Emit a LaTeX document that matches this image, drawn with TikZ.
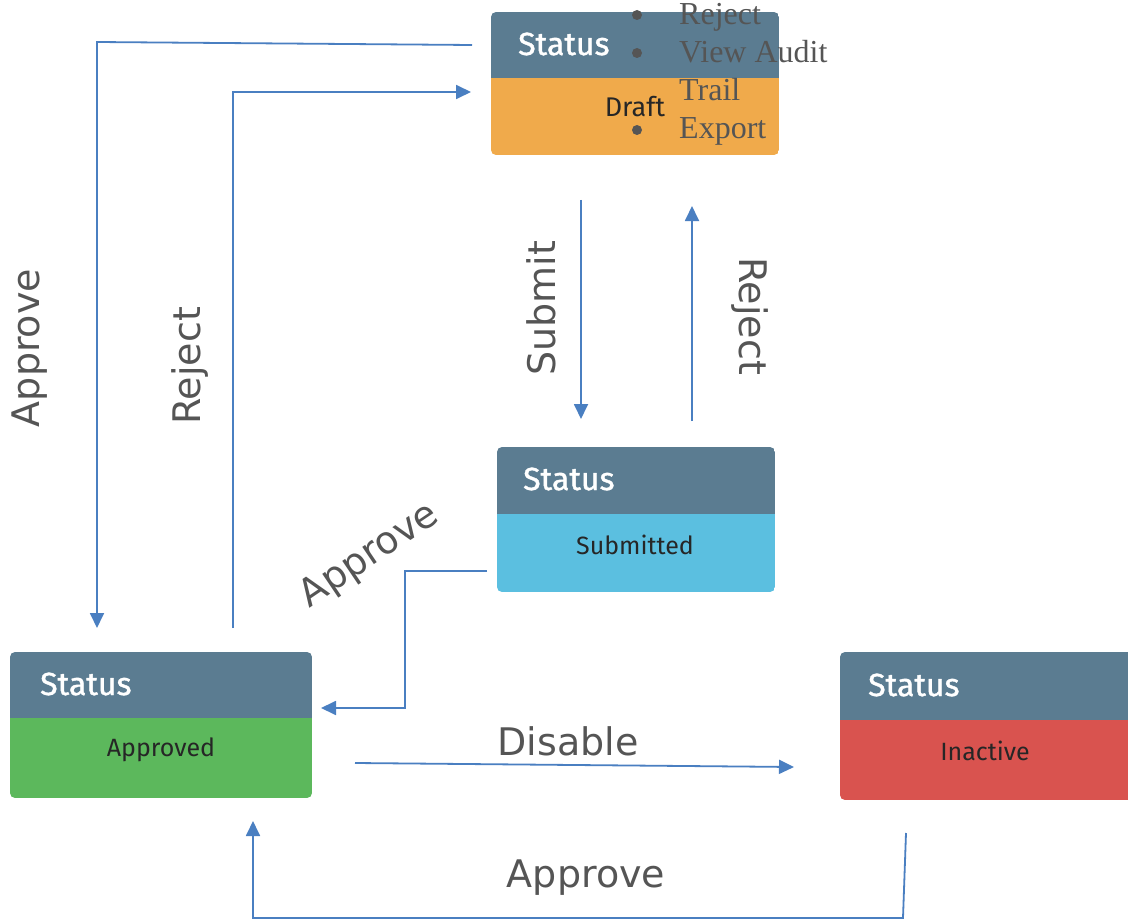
\documentclass[tikz,border=0pt]{standalone}
\usepackage{fontspec}
\setmainfont{Liberation Serif}
\newfontfamily\boxfont{Fira Sans}
\newfontfamily\statfont{Fira Sans}[FakeBold=1.2]
\newfontfamily\labfont{DejaVu Sans}
\usetikzlibrary{arrows.meta}
\definecolor{headc}{HTML}{5B7C91}
\definecolor{draftc}{HTML}{F0AA4B}
\definecolor{subc}{HTML}{5BBFE0}
\definecolor{apprc}{HTML}{5CB85C}
\definecolor{inacc}{HTML}{D9534F}
\definecolor{linkc}{HTML}{4A7FC1}
\definecolor{labc}{HTML}{555555}
\newcommand\stbox[7]{%
  \begin{scope}
    \clip[rounded corners=5pt] (#2,#3) rectangle (#4,#5);
    \fill[headc] (#2,#3) rectangle (#4,#6);
    \fill[#7] (#2,#6) rectangle (#4,#5);
  \end{scope}
  \coordinate (#1-nw) at (#2,#3);
  \coordinate (#1-se) at (#4,#5);
}
\begin{document}
\begin{tikzpicture}[x=1pt,y=-1pt,
  conn/.style={draw=linkc, line width=1.8pt},
  tipped/.style={conn, -{Triangle[length=15pt,width=14pt]}},
  lab/.style={text=labc, font=\labfont\fontsize{38}{40}\selectfont, inner sep=0},
  stat/.style={text=white, font=\statfont\fontsize{32}{34}\selectfont, anchor=west, inner sep=0},
  bodytxt/.style={text=black!85, font=\boxfont\fontsize{25}{27}\selectfont, inner sep=0},
  bul/.style={text=labc, font=\fontsize{32}{38}\selectfont, anchor=base west, inner sep=0},
  dot/.style={circle, fill=labc, inner sep=0, minimum size=10pt}]
\clip (0,0) rectangle (1128,923);
\fill[white] (0,0) rectangle (1128,923);

% boxes
\stbox{draft}{491}{12}{779}{155}{78}{draftc}
\stbox{sub}{497}{447}{775}{592}{514}{subc}
\stbox{appr}{10}{652}{312}{798}{718}{apprc}
\stbox{inac}{840}{652}{1145}{800}{720}{inacc}

\node[stat] (draftst) at (518,44) {Status};
\node[stat] (subst) at (523,479) {Status};
\node[stat] (apprst) at (40,684) {Status};
\node[stat] (inacst) at (868,685) {Status};

\node[bodytxt, font=\boxfont\fontsize{27}{29}\selectfont] (drafttx) at (635,107) {Draft};
\node[bodytxt] (subtx) at (635,545) {Submitted};
\node[bodytxt] (apprtx) at (161,750) {Approved};
\node[bodytxt] (inactx) at (985,751) {Inactive};

% bullet list
\node[dot] (b1) at (637,15) {};
\node[dot] (b2) at (637,53) {};
\node[dot] (b3) at (637,130) {};
\node[bul] (l1) at (679,25) {Reject};
\node[bul] (l2) at (679,63) {View Audit};
\node[bul] (l3) at (679,101) {Trail};
\node[bul] (l4) at (679,139) {Export};

% connector end points
\coordinate (a1s) at (472,45);
\coordinate (a1c) at (97,42);
\coordinate (a1e) at (97,628);
\coordinate (r1s) at (233,628);
\coordinate (r1c) at (233,92);
\coordinate (r1e) at (471,92);
\coordinate (sbs) at (581,200);
\coordinate (sbe) at (581,419);
\coordinate (r2s) at (692,421);
\coordinate (r2e) at (692,206);
\coordinate (a2s) at (487,571);
\coordinate (a2c1) at (405,571);
\coordinate (a2c2) at (405,708);
\coordinate (a2e) at (321,708);
\coordinate (dss) at (355,763);
\coordinate (dse) at (794,767);
\coordinate (a3s) at (906,833);
\coordinate (a3c1) at (903,918);
\coordinate (a3c2) at (253,918);
\coordinate (a3e) at (253,821);

\draw[tipped] (a1s) -- (a1c) -- (a1e);
\draw[tipped] (r1s) -- (r1c) -- (r1e);
\draw[tipped] (sbs) -- (sbe);
\draw[tipped] (r2s) -- (r2e);
\draw[tipped] (a2s) -- (a2c1) -- (a2c2) -- (a2e);
\draw[tipped] (dss) -- (dse);
\draw[tipped] (a3s) -- (a3c1) -- (a3c2) -- (a3e);

% labels
\node[lab, rotate=90] (la1) at (30,348) {Approve};
\node[lab, rotate=90] (lr1) at (190,366) {Reject};
\node[lab, rotate=90] (lsb) at (541,308) {Submit};
\node[lab, rotate=-90] (lr2) at (750,316) {Reject};
\node[lab, rotate=34] (la2) at (370,556) {Approve};
\node[lab] (lds) at (568,741) {Disable};
\node[lab] (la3) at (586,878) {Approve};
\end{tikzpicture}
\end{document}
